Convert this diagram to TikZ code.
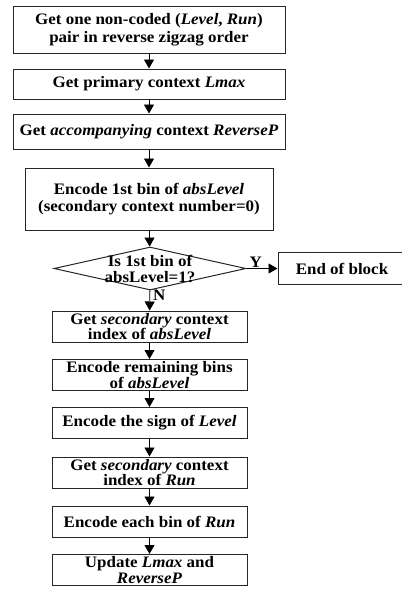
\documentclass[tikz,border=0pt]{standalone}
\usepackage{fontspec}
\setmainfont[FakeStretch=1.06]{Liberation Serif}
\usetikzlibrary{positioning, shapes.geometric, arrows.meta}

\begin{document}
\begin{tikzpicture}[
  x=1pt, y=1pt,
  stepbox/.style={rectangle, draw=black!85, line width=1pt, align=center, inner sep=0pt, minimum width=272pt},
  midbox/.style={stepbox, minimum width=248pt},
  smallbox/.style={stepbox, minimum width=195pt, minimum height=31pt, font=\fontsize{16}{15.5}\selectfont\bfseries},
  decision/.style={diamond, draw=black!85, line width=1pt, align=center, aspect=4.4, inner sep=-4pt, minimum width=192pt, minimum height=43pt, font=\fontsize{16}{16}\selectfont\bfseries},
  arrow/.style={-{Triangle[length=9pt, width=10pt]}, line width=0.9pt, black},
  font=\fontsize{16}{17.5}\selectfont\bfseries
]
\useasboundingbox (0,0) rectangle (402,-590);

% Upper chain
\node[stepbox, minimum height=47pt] (pair) at (149,-29.5) {Get one non-coded (\textit{Level},\ \textit{Run})\\pair in reverse zigzag order};
\node[stepbox, minimum height=30pt] (lmax) at (149,-84)    {Get primary context \textit{Lmax}};
\node[stepbox, minimum height=35pt] (revp) at (149,-131.5) {Get \textit{accompanying} context \textit{ReverseP}};
\node[midbox, minimum height=62pt] (first) at (149,-199)   {Encode 1st bin of \textit{absLevel}\\(secondary context number=0)};

% Decision
\node[decision] (isone) at (150,-268.5) {Is 1st bin of\\absLevel=1?};
\node[stepbox, minimum width=128pt, minimum height=32pt, right=31pt of isone] (endblk) {End of block};

% Lower chain
\node[smallbox] (ctxlev) at (149.5,-326.5) {Get \textit{secondary} context\\index of \textit{absLevel}};
\node[smallbox] (remain) at (149.5,-375)   {Encode remaining bins\\of \textit{absLevel}};
\node[smallbox] (sign)   at (149.5,-423)   {Encode the sign of \textit{Level}};
\node[smallbox] (ctxrun) at (149.5,-472.5) {Get \textit{secondary} context\\index of \textit{Run}};
\node[smallbox] (binrun) at (149.5,-521.5) {Encode each bin of \textit{Run}};
\node[smallbox] (update) at (149.5,-570)   {Update \textit{Lmax} and\\\textit{ReverseP}};

% Arrows
\draw[arrow] (pair) -- (lmax);
\draw[arrow] (lmax) -- (revp);
\draw[arrow] (revp) -- (first);
\draw[arrow] (first) -- (isone);
\draw[arrow] (isone) -- node[above, pos=0.3, inner sep=1pt] {Y} (endblk);
\draw[arrow] (isone) -- node[right, pos=0.25, inner sep=3pt] {N} (ctxlev);
\draw[arrow] (ctxlev) -- (remain);
\draw[arrow] (remain) -- (sign);
\draw[arrow] (sign) -- (ctxrun);
\draw[arrow] (ctxrun) -- (binrun);
\draw[arrow] (binrun) -- (update);

\end{tikzpicture}
\end{document}
